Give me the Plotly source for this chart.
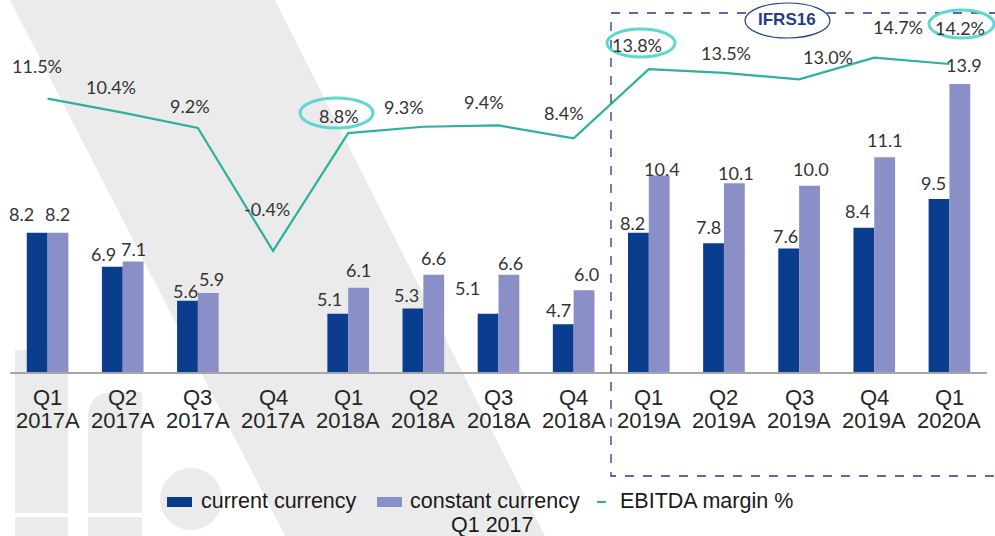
import plotly.graph_objects as go

# ---------------- data ----------------
categories = ["Q1 2017A", "Q2 2017A", "Q3 2017A", "Q4 2017A",
              "Q1 2018A", "Q2 2018A", "Q3 2018A", "Q4 2018A",
              "Q1 2019A", "Q2 2019A", "Q3 2019A", "Q4 2019A", "Q1 2020A"]
quarter_labels = ["Q1", "Q2", "Q3", "Q4", "Q1", "Q2", "Q3", "Q4",
                  "Q1", "Q2", "Q3", "Q4", "Q1"]
year_labels = ["2017A", "2017A", "2017A", "2017A", "2018A", "2018A", "2018A",
               "2018A", "2019A", "2019A", "2019A", "2019A", "2020A"]
current_currency = [8.2, 6.9, 5.6, None, 5.1, 5.3, 5.1, 4.7, 8.2, 7.8, 7.6, 8.4, 9.5]
constant_currency = [8.2, 7.1, 5.9, None, 6.1, 6.6, 6.6, 6.0, 10.4, 10.1, 10.0, 11.1, 13.9]
ebitda_margin = [11.5, 10.4, 9.2, -0.4, 8.8, 9.3, 9.4, 8.4, 13.8, 13.5, 13.0, 14.7, 14.2]
series_names = ["current currency", "constant currency", "EBITDA margin %"]
legend_subtitle = "Q1 2017"

# ---------------- style ----------------
W, H = 995, 536
PL, PR, PT, PB = 10, 8, 0, 164
PW, PH = W - PL - PR, H - PT - PB

DARK = "#0b3d8f"
LIGHT = "#8b8fc7"
TEAL = "#2eb0a0"
RING = "#5fd6cf"
BOXBLUE = "#1f3c88"
GREY_BG = "#ebebeb"
LABEL = "#333333"
NUMFONT = "Lato"
AXFONT = "Liberation Sans, Arial"

# label offsets (pixels): [dx, dy-up]
cur_off = [[-16, 19], [-9, 13], [-2, 10], [0, 0], [-8, 15], [-6, 14], [-21, 26],
           [-5, 14], [-6, 10], [-5, 16], [-3, 13], [-6, 17], [-6, 16]]
con_off = [[0, 19], [0, 13], [3, 14], [0, 0], [0, 18], [0, 17], [2, 12],
           [2, 16], [3, 6], [2, 10], [1, 17], [0, 17], [4, 19]]
mar_off = [[-11, 33], [-12, 26], [-8, 22], [-6, 42], [-9, 17], [-19, 20], [-15, 23],
           [-10, 25], [-12, 24], [2, 20], [29, 22], [24, 31], [11, 36]]


def px(x):
    return (x - PL) / PW


def py(y):
    return (H - PB - y) / PH


fig = go.Figure()

fig.add_trace(go.Bar(x=categories, y=current_currency, name=series_names[0],
                     marker=dict(color=DARK, line=dict(width=0))))
fig.add_trace(go.Bar(x=categories, y=constant_currency, name=series_names[1],
                     marker=dict(color=LIGHT, line=dict(width=0))))
fig.add_trace(go.Scatter(x=categories, y=ebitda_margin, name=series_names[2],
                         mode="lines", yaxis="y2",
                         line=dict(color=TEAL, width=2.2)))

annotations = []
BAR_HALF = PW / 13 * (1 - 0.446) / 4

for i, c in enumerate(categories):
    if current_currency[i] is not None:
        annotations.append(dict(x=c, y=current_currency[i], xref="x", yref="y",
                                text=f"{current_currency[i]:.1f}", showarrow=False,
                                xshift=-BAR_HALF + cur_off[i][0], yshift=cur_off[i][1],
                                yanchor="middle",
                                font=dict(family=NUMFONT, size=18, color=LABEL)))
    if constant_currency[i] is not None:
        annotations.append(dict(x=c, y=constant_currency[i], xref="x", yref="y",
                                text=f"{constant_currency[i]:.1f}", showarrow=False,
                                xshift=BAR_HALF + con_off[i][0], yshift=con_off[i][1],
                                yanchor="middle",
                                font=dict(family=NUMFONT, size=18, color=LABEL)))
    annotations.append(dict(x=c, y=ebitda_margin[i], xref="x", yref="y2",
                            text=f"{ebitda_margin[i]:.1f}%", showarrow=False,
                            xshift=mar_off[i][0], yshift=mar_off[i][1],
                            yanchor="middle",
                            font=dict(family=NUMFONT, size=18, color=LABEL)))
    annotations.append(dict(x=c, y=0, xref="x", yref="paper", text=quarter_labels[i],
                            showarrow=False, yanchor="middle", yshift=-25,
                            font=dict(family=AXFONT, size=22, color="#262626")))
    annotations.append(dict(x=c, y=0, xref="x", yref="paper", text=year_labels[i],
                            showarrow=False, yanchor="middle", yshift=-48,
                            font=dict(family=AXFONT, size=22, color="#262626")))

# IFRS16 label
annotations.append(dict(x=px(787), y=py(20), xref="paper", yref="paper", text="<b>IFRS16</b>",
                        showarrow=False, xanchor="center", yanchor="middle",
                        font=dict(family=AXFONT, size=17, color=BOXBLUE)))

# legend (drawn manually to match the original keys)
LEG_FONT = dict(family=AXFONT, size=21.5, color="#1a1a1a")
LEG_Y = 501
for name, tx in zip(series_names, [199, 408, 618]):
    annotations.append(dict(x=px(tx), y=py(LEG_Y), xref="paper", yref="paper", text=name,
                            showarrow=False, xanchor="left", yanchor="middle", font=LEG_FONT))
annotations.append(dict(x=px(492), y=py(525), xref="paper", yref="paper", text=legend_subtitle,
                        showarrow=False, xanchor="center", yanchor="middle", font=LEG_FONT))

shapes = []
# background watermark
shapes.append(dict(type="path", xref="paper", yref="paper", layer="below",
                   path=f"M{px(10)},{py(0)} L{px(275)},{py(0)} L{px(545)},{py(536)} L{px(285)},{py(536)} Z",
                   fillcolor=GREY_BG, line=dict(width=0)))
shapes.append(dict(type="rect", xref="paper", yref="paper", layer="below",
                   x0=px(15), x1=px(68), y0=py(350), y1=py(513),
                   fillcolor=GREY_BG, line=dict(width=0)))
shapes.append(dict(type="rect", xref="paper", yref="paper", layer="below",
                   x0=px(15), x1=px(68), y0=py(517), y1=py(540),
                   fillcolor=GREY_BG, line=dict(width=0)))
shapes.append(dict(type="path", xref="paper", yref="paper", layer="below",
                   path=(f"M{px(88)},{py(513)} L{px(88)},{py(418)} "
                         f"Q{px(88)},{py(392)} {px(114)},{py(392)} "
                         f"L{px(142)},{py(392)} L{px(142)},{py(513)} Z"),
                   fillcolor=GREY_BG, line=dict(width=0)))
shapes.append(dict(type="rect", xref="paper", yref="paper", layer="below",
                   x0=px(88), x1=px(142), y0=py(517), y1=py(540),
                   fillcolor=GREY_BG, line=dict(width=0)))
shapes.append(dict(type="circle", xref="paper", yref="paper", layer="below",
                   x0=px(160), x1=px(222), y0=py(468), y1=py(530),
                   fillcolor=GREY_BG, line=dict(width=0)))
# legend keys
shapes.append(dict(type="rect", xref="paper", yref="paper",
                   x0=px(167), x1=px(192), y0=py(497), y1=py(507),
                   fillcolor=DARK, line=dict(width=0)))
shapes.append(dict(type="rect", xref="paper", yref="paper",
                   x0=px(377), x1=px(402), y0=py(497), y1=py(507),
                   fillcolor=LIGHT, line=dict(width=0)))
shapes.append(dict(type="line", xref="paper", yref="paper",
                   x0=px(597), x1=px(606), y0=py(502), y1=py(502),
                   line=dict(color=TEAL, width=2)))
# IFRS16 dashed box
shapes.append(dict(type="rect", xref="paper", yref="paper",
                   x0=px(611), x1=px(1003), y0=py(13), y1=py(476),
                   line=dict(color=BOXBLUE, width=1.3, dash="dash")))
shapes.append(dict(type="circle", xref="paper", yref="paper",
                   x0=px(745), x1=px(830), y0=py(3), y1=py(38),
                   fillcolor="white", line=dict(color=BOXBLUE, width=1.2)))
# highlight rings
for (x0, x1, y0, y1) in [(300, 373, 98, 128), (607, 675, 29, 57), (929, 994, 10, 38)]:
    shapes.append(dict(type="circle", xref="paper", yref="paper",
                       x0=px(x0), x1=px(x1), y0=py(y0), y1=py(y1),
                       line=dict(color=RING, width=3)))

fig.update_layout(
    width=W, height=H,
    margin=dict(l=PL, r=PR, t=PT, b=PB),
    paper_bgcolor="white", plot_bgcolor="rgba(0,0,0,0)",
    barmode="group", bargap=0.446, bargroupgap=0,
    xaxis=dict(type="category", range=[-0.5, 12.5], showticklabels=False,
               showline=True, linecolor="#a6a6a6", linewidth=1.5,
               showgrid=False, zeroline=False, ticks=""),
    yaxis=dict(range=[2.87, 17.12], visible=False, showgrid=False, zeroline=False),
    yaxis2=dict(range=[-9.86, 19.2], overlaying="y", visible=False,
                showgrid=False, zeroline=False),
    showlegend=False,
    annotations=annotations,
    shapes=shapes,
)

fig.write_html("out.html", config={"displayModeBar": False},
               post_script="document.body.style.margin='0';")
